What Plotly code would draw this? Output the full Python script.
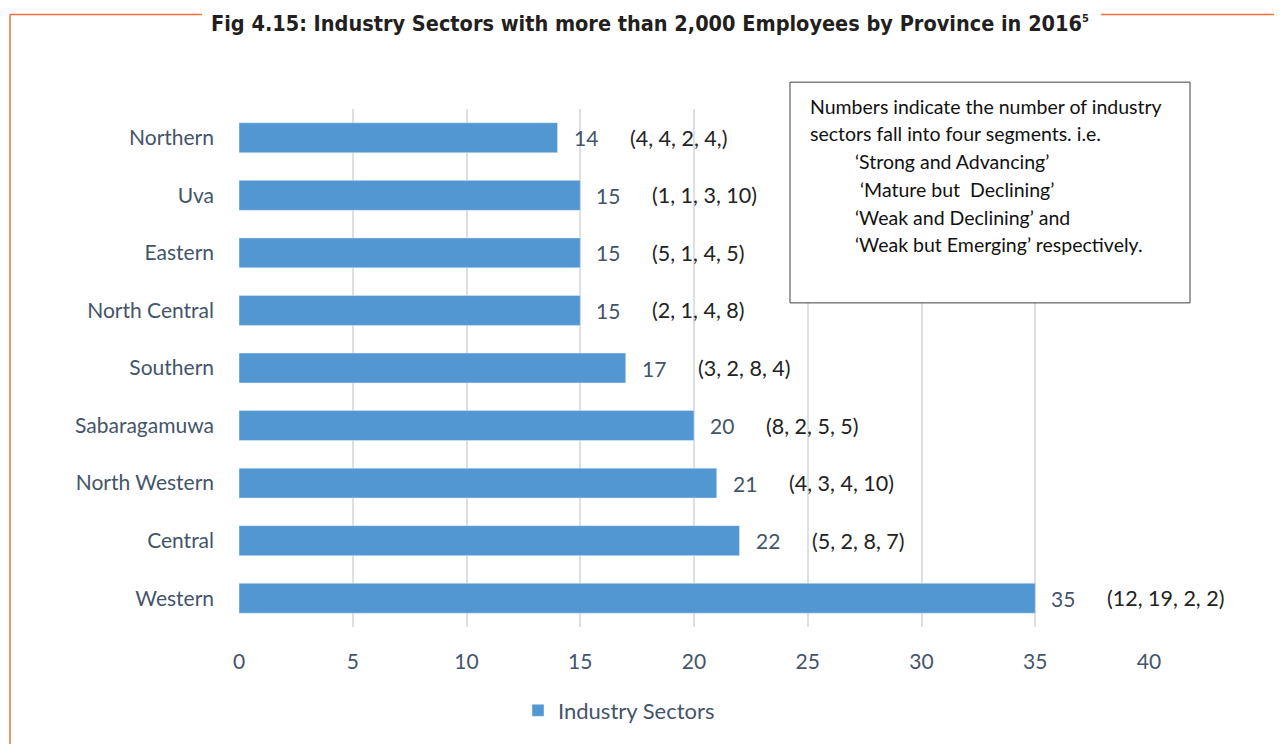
import plotly.graph_objects as go

provinces = ["Western", "Central", "North Western", "Sabaragamuwa", "Southern",
             "North Central", "Eastern", "Uva", "Northern"]
sectors = [35, 22, 21, 20, 17, 15, 15, 15, 14]
segments = ["(12, 19, 2, 2)", "(5, 2, 8, 7)", "(4, 3, 4, 10)", "(8, 2, 5, 5)", "(3, 2, 8, 4)",
            "(2, 1, 4, 8)", "(5, 1, 4, 5)", "(1, 1, 3, 10)", "(4, 4, 2, 4,)"]
x_ticks = [0, 5, 10, 15, 20, 25, 30, 35, 40]
series_name = "Industry Sectors"
title_text = "Fig 4.15: Industry Sectors with more than 2,000 Employees by Province in 2016"
title_sup = "5"
note_lines = [
    "Numbers indicate the number of industry",
    "sectors fall into four segments. i.e.",
    "\u00a0\u00a0\u00a0\u00a0\u00a0\u00a0\u00a0\u00a0\u00a0\u2018Strong and Advancing\u2019",
    "\u00a0\u00a0\u00a0\u00a0\u00a0\u00a0\u00a0\u00a0\u00a0\u00a0\u2018Mature but\u00a0 Declining\u2019",
    "\u00a0\u00a0\u00a0\u00a0\u00a0\u00a0\u00a0\u00a0\u00a0\u2018Weak and Declining\u2019 and",
    "\u00a0\u00a0\u00a0\u00a0\u00a0\u00a0\u00a0\u00a0\u00a0\u2018Weak but Emerging\u2019 respectively.",
]

# page body has an 8px margin: work in reference pixels and subtract it
OFF = 8
W, H = 1282 - OFF, 744 - OFF
L = 239 - OFF
T = 109 - OFF
R = W - (1149 - OFF)
B = H - (630 - OFF)
PW, PH = W - L - R, H - T - B


def px(xp):
    return (xp - OFF - L) / PW


def py(yp):
    return (H - B - (yp - OFF)) / PH


FONT = "Lato, Open Sans, sans-serif"
AXC = "#44546A"
ORANGE = "#F0703A"

fig = go.Figure()
fig.add_trace(go.Bar(
    y=provinces, x=sectors, orientation="h", name=series_name,
    marker=dict(color="#5296D2"), width=0.52,
))

annotations = []
for p, v, s in zip(provinces, sectors, segments):
    annotations.append(dict(x=v, y=p, xref="x", yref="y", text=str(v), showarrow=False,
                            xanchor="left", xshift=14,
                            font=dict(family=FONT, size=21, color=AXC)))
    annotations.append(dict(x=v, y=p, xref="x", yref="y", text=s, showarrow=False,
                            xanchor="left", xshift=70,
                            font=dict(family=FONT, size=21.5, color="#222222")))

annotations.append(dict(x=px(650), y=py(8), xref="paper", yref="paper",
                        text="<b>" + title_text + "<sup><span style='font-size:11px'>" + title_sup
                             + "</span></sup></b>",
                        showarrow=False, xanchor="center", yanchor="top", yshift=0,
                        font=dict(family="DejaVu Sans Condensed, Liberation Sans Narrow, sans-serif",
                                  size=21.5, color="#231F20")))

ys = [106, 134, 162, 190, 218, 245]
for line, yl in zip(note_lines, ys):
    annotations.append(dict(x=px(808), y=py(yl), xref="paper", yref="paper", text=line,
                            showarrow=False, xanchor="left", yanchor="middle",
                            font=dict(family=FONT, size=19.5, color="#111111")))

shapes = [
    dict(type="rect", xref="paper", yref="paper", x0=px(790), x1=px(1190), y0=py(82), y1=py(304),
         line=dict(color="#404040", width=1), fillcolor="white", layer="above"),
    dict(type="line", xref="paper", yref="paper", x0=px(10), x1=px(202), y0=py(14), y1=py(14),
         line=dict(color=ORANGE, width=1.5)),
    dict(type="line", xref="paper", yref="paper", x0=px(1101), x1=px(1290), y0=py(14), y1=py(14),
         line=dict(color=ORANGE, width=1.5)),
    dict(type="line", xref="paper", yref="paper", x0=px(10), x1=px(10), y0=py(14), y1=py(760),
         line=dict(color=ORANGE, width=1.5)),
]

fig.update_layout(
    width=W, height=H,
    margin=dict(l=L, r=R, t=T, b=B, pad=0),
    paper_bgcolor="white", plot_bgcolor="white",
    showlegend=True,
    legend=dict(orientation="h", x=px(518), y=py(714), xanchor="left", yanchor="middle",
                font=dict(family=FONT, size=22, color=AXC), itemwidth=30),
    xaxis=dict(range=[0, 40], tickvals=x_ticks, showgrid=True, gridcolor="#DCDFE4", gridwidth=1.5,
               zeroline=False, showline=False, ticks="", tickfont=dict(family=FONT, size=21, color=AXC),
               ticklabelstandoff=20),
    yaxis=dict(categoryorder="array", categoryarray=provinces, showgrid=False, zeroline=False,
               ticks="", tickfont=dict(family=FONT, size=21, color=AXC), ticklabelstandoff=24),
    annotations=annotations,
    shapes=shapes,
    bargap=0.48,
)

fig.write_html("out.html")
